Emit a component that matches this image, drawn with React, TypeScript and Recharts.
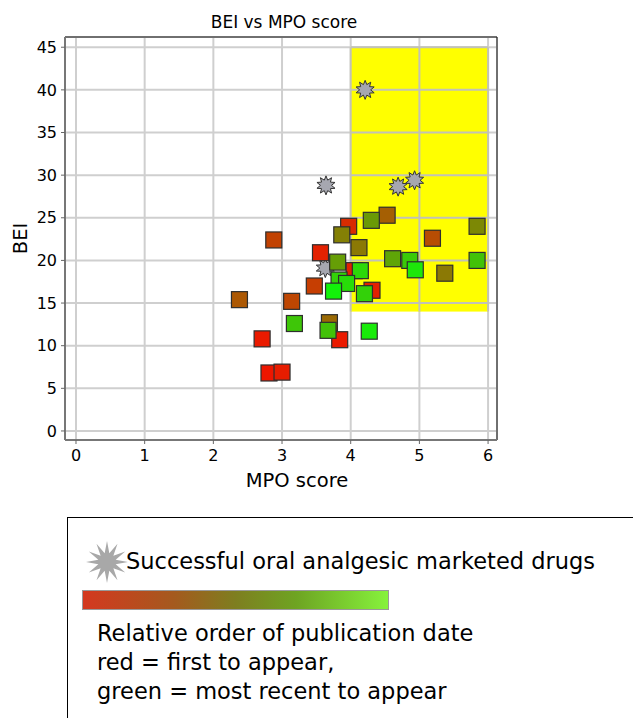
import React from 'react';
import {
  ScatterChart, Scatter, XAxis, YAxis, CartesianGrid,
  ReferenceArea, ReferenceLine, Label,
} from 'recharts';

// published compounds: MPO score, BEI, relative publication order (0 = first, 1 = most recent)
const mpoScores = [
  2.38, 2.88, 2.71, 2.81, 3.0, 3.97, 4.3, 4.53, 3.87, 4.12, 3.56,
  5.19, 5.84, 5.84, 4.61, 4.86, 4.94, 5.37, 3.81, 4.05, 4.14, 4.31,
  4.2, 3.94, 3.75, 3.47, 3.14, 3.18, 3.69, 3.67, 3.84, 4.27, 3.83,
];
const beiValues = [
  15.4, 22.4, 10.8, 6.8, 6.9, 24.0, 24.7, 25.3, 23.0, 21.5, 20.9,
  22.6, 24.0, 20.0, 20.2, 20.0, 18.9, 18.5, 19.8, 18.8, 18.8, 16.5,
  16.1, 17.3, 16.4, 17.0, 15.2, 12.6, 12.7, 11.8, 10.7, 11.7, 17.7,
];
const pubOrder = [
  0.3, 0.2, 0.02, 0.0, 0.03, 0.1, 0.6, 0.33, 0.48, 0.45, 0.05,
  0.25, 0.52, 0.78, 0.65, 0.82, 0.95, 0.45, 0.62, 0.05, 0.88, 0.05,
  0.85, 0.9, 1.0, 0.18, 0.22, 0.8, 0.38, 0.78, 0.02, 0.97, 0.85,
];

// successful oral analgesic marketed drugs
const drugMpo = [4.21, 3.64, 4.69, 4.93, 3.63];
const drugBei = [40.0, 28.8, 28.65, 29.4, 19.1];

const xTicks = [0, 1, 2, 3, 4, 5, 6];
const yTicks = [0, 5, 10, 15, 20, 25, 30, 35, 40, 45];

// desirable region (MPO >= 4, BEI >= 14)
const zoneX: [number, number] = [4, 6];
const zoneY: [number, number] = [14, 45];

const X_DOMAIN: [number, number] = [-0.16, 6.13];
const Y_DOMAIN: [number, number] = [-1.06, 46.2];

const squares = mpoScores
  .map((x, i) => ({ x, y: beiValues[i], order: pubOrder[i] }))
  .sort((a, b) => a.order - b.order);

const drugs = drugMpo.map((x, i) => ({ x, y: drugBei[i] }));

const FONT = '"DejaVu Sans", sans-serif';
const GRID = '#cfcfcf';
const GRID_ON_YELLOW = '#c2c2b6';

const orderColor = (t: number) => {
  const r = Math.round(238 + (18 - 238) * t);
  const g = Math.round(22 + (242 - 22) * t);
  const b = Math.round(0 + (10 - 0) * t);
  return `rgb(${r},${g},${b})`;
};

const starPoints = (cx: number, cy: number, rOut: number, rIn: number, n: number) => {
  const pts: string[] = [];
  for (let i = 0; i < 2 * n; i++) {
    const r = i % 2 === 0 ? rOut : rIn;
    const a = (Math.PI * i) / n - Math.PI / 2;
    pts.push(`${(cx + r * Math.cos(a)).toFixed(2)},${(cy + r * Math.sin(a)).toFixed(2)}`);
  }
  return pts.join(' ');
};

const SquareShape = (props: any) => {
  const { cx, cy, payload } = props;
  if (cx == null || cy == null) return null;
  return (
    <rect
      x={cx - 8}
      y={cy - 8}
      width={16}
      height={16}
      fill={orderColor(payload.order)}
      stroke="#2e2e2e"
      strokeWidth={1.2}
    />
  );
};

const StarShape = (props: any) => {
  const { cx, cy } = props;
  if (cx == null || cy == null) return null;
  return (
    <polygon
      points={starPoints(cx, cy, 9.5, 5.5, 10)}
      fill="#a6a7b0"
      stroke="#333"
      strokeWidth={1}
    />
  );
};

// yellow zone with the grid lines kept visible on top of it
const ZoneShape = (props: any) => {
  const { x, y, width, height } = props;
  if (x == null || width == null) return null;
  const sx = (v: number) => x + ((v - zoneX[0]) / (zoneX[1] - zoneX[0])) * width;
  const sy = (v: number) => y + ((zoneY[1] - v) / (zoneY[1] - zoneY[0])) * height;
  const gx = xTicks.filter((t) => t >= zoneX[0] && t <= zoneX[1]);
  const gy = yTicks.filter((t) => t >= zoneY[0] && t <= zoneY[1]);
  return (
    <g>
      <rect x={x} y={y} width={width} height={height} fill="#ffff00" />
      {gx.map((t) => (
        <line key={`x${t}`} x1={sx(t)} x2={sx(t)} y1={y} y2={y + height} stroke={GRID_ON_YELLOW} strokeWidth={2} />
      ))}
      {gy.map((t) => (
        <line key={`y${t}`} x1={x} x2={x + width} y1={sy(t)} y2={sy(t)} stroke={GRID_ON_YELLOW} strokeWidth={2} />
      ))}
    </g>
  );
};

const textLine = (top: number): React.CSSProperties => ({
  position: 'absolute',
  left: 97,
  top,
  fontSize: 22.5,
  lineHeight: 1,
  whiteSpace: 'nowrap',
  color: '#000',
});

export default function App() {
  return (
    <div
      style={{
        position: 'absolute', left: 0, top: 0, width: 633, height: 718,
        overflow: 'hidden', background: '#fff', fontFamily: FONT,
      }}
    >
      <div
        style={{
          position: 'absolute', left: 0, top: 14, width: 568,
          textAlign: 'center', fontSize: 17, lineHeight: 1, color: '#000',
        }}
      >
        BEI vs MPO score
      </div>

      <ScatterChart
        width={633}
        height={500}
        margin={{ top: 37, right: 136, bottom: 30, left: 5 }}
      >
        <CartesianGrid stroke={GRID} strokeWidth={2} />
        <ReferenceArea
          x1={zoneX[0]} x2={zoneX[1]} y1={zoneY[0]} y2={zoneY[1]}
          shape={ZoneShape}
        />
        <XAxis
          type="number"
          dataKey="x"
          domain={X_DOMAIN}
          ticks={xTicks}
          allowDataOverflow
          height={30}
          tickSize={4}
          tickMargin={6}
          axisLine={{ stroke: '#777', strokeWidth: 2 }}
          tickLine={{ stroke: '#666' }}
          tick={{ fill: '#000', fontSize: 16, fontFamily: FONT }}
        >
          <Label
            value="MPO score"
            position="bottom"
            offset={3}
            dx={16}
            style={{ fill: '#000', fontSize: 19.5, fontFamily: FONT }}
          />
        </XAxis>
        <YAxis
          type="number"
          dataKey="y"
          domain={Y_DOMAIN}
          ticks={yTicks}
          allowDataOverflow
          width={60}
          tickSize={4}
          tickMargin={4}
          axisLine={{ stroke: '#777', strokeWidth: 2 }}
          tickLine={{ stroke: '#666' }}
          tick={{ fill: '#000', fontSize: 16, fontFamily: FONT }}
        >
          <Label
            value="BEI"
            position="center"
            angle={-90}
            dx={-15}
            style={{ fill: '#000', fontSize: 19.5, fontFamily: FONT }}
          />
        </YAxis>
        <ReferenceLine y={Y_DOMAIN[1]} stroke="#111" strokeWidth={1} ifOverflow="visible" />
        <ReferenceLine x={X_DOMAIN[1]} stroke="#111" strokeWidth={1} ifOverflow="visible" />
        <Scatter data={drugs} shape={StarShape} isAnimationActive={false} />
        <Scatter data={squares} shape={SquareShape} isAnimationActive={false} />
      </ScatterChart>

      {/* legend box */}
      <div
        style={{
          position: 'absolute', left: 67, top: 517, width: 640, height: 260,
          border: '1px solid #000', boxSizing: 'border-box',
        }}
      />
      <svg
        width={44}
        height={44}
        style={{ position: 'absolute', left: 85, top: 540 }}
      >
        <polygon points={starPoints(22, 22, 21, 9, 12)} fill="#a8a8a8" />
      </svg>
      <div style={{ ...textLine(550), left: 126 }}>
        Successful oral analgesic marketed drugs
      </div>
      <div
        style={{
          position: 'absolute', left: 82, top: 590, width: 307, height: 20,
          boxSizing: 'border-box', border: '1px solid #999',
          background:
            'linear-gradient(to right, #d4381f 0%, #a45a1e 30%, #7e7e20 50%, #6ea422 70%, #86f23c 100%)',
        }}
      />
      <div style={textLine(622)}>Relative order of publication date</div>
      <div style={textLine(651)}>red = first to appear,</div>
      <div style={textLine(680)}>green = most recent to appear</div>
    </div>
  );
}
